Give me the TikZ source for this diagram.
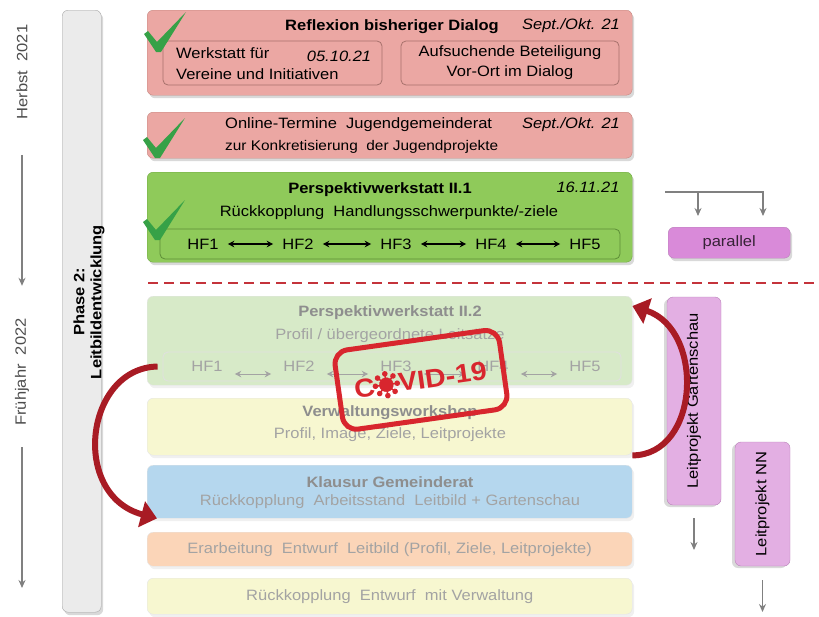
\documentclass[tikz,border=0pt]{standalone}
\usepackage{fontspec}
\setmainfont{Liberation Sans}[FakeStretch=1.1]
\usetikzlibrary{positioning,shadows,arrows.meta,calc}

\definecolor{reflpink}{HTML}{EBA7A3}
\definecolor{reflline}{HTML}{C4857F}
\definecolor{pwgreen}{HTML}{8FCA5A}
\definecolor{pwline}{HTML}{6EA741}
\definecolor{fadegreen}{HTML}{D7EAC8}
\definecolor{fadeyellow}{HTML}{F7F7D0}
\definecolor{fadeblue}{HTML}{B5D7EE}
\definecolor{fadeorange}{HTML}{FBD5B8}
\definecolor{lilac}{HTML}{E3AFE3}
\definecolor{lilacdark}{HTML}{D98AD9}
\definecolor{lilacline}{HTML}{B783B7}
\definecolor{arrowred}{HTML}{A81B24}
\definecolor{dashred}{HTML}{C4333B}
\definecolor{stampred}{HTML}{D8262E}
\definecolor{tickgreen}{HTML}{36A147}
\definecolor{timegray}{HTML}{808080}
\definecolor{fadetext}{HTML}{A3A3A3}
\definecolor{fadetitle}{HTML}{8E8E8E}

\def\fs{\fontsize{15}{20}\selectfont}

\tikzset{checkmark/.pic={
  \fill[tickgreen] (-14,-18) -- (-10,-21) -- (-1,-10) -- (28,-40) -- (3,0) -- (-2,0) -- cycle;}}

\begin{document}
\begin{tikzpicture}[x=1pt,y=-1pt,font=\fs]
\tikzstyle{stage}=[draw, rounded corners=6pt, anchor=north west, inner sep=0pt, minimum width=485pt]
\tikzstyle{shade}=[drop shadow={shadow xshift=2pt,shadow yshift=-3pt,opacity=0.3}]
\tikzstyle{light shade}=[drop shadow={shadow xshift=2pt,shadow yshift=-3pt,opacity=0.12}]
\tikzstyle{pink stage}=[stage, shade, fill=reflpink, draw=reflline]
\tikzstyle{green stage}=[stage, shade, fill=pwgreen, draw=pwline]
\tikzstyle{faded stage}=[stage, light shade, draw=black!10]
\tikzstyle{inner box}=[draw, rounded corners=5pt, inner sep=0pt, line width=0.8pt]
\tikzstyle{boxtitle}=[font=\fs\bfseries, inner sep=0pt]
\tikzstyle{boxdate}=[font=\fs\itshape, inner sep=0pt]
\tikzstyle{boxtext}=[inner sep=0pt]
\tikzstyle{faded title}=[boxtitle, text=fadetitle]
\tikzstyle{faded text}=[boxtext, text=fadetext]
\tikzstyle{hf}=[inner sep=1pt]
\tikzstyle{hf arrow}=[{Stealth[length=6.5pt,width=6.5pt]}-{Stealth[length=6.5pt,width=6.5pt]}, line width=1.2pt, shorten <=8pt, shorten >=8pt]
\tikzstyle{time arrow}=[-{Stealth[length=8pt,width=7pt]}, draw=timegray, line width=1.3pt]
\tikzstyle{red arrow}=[draw=arrowred, line width=6pt, -{Triangle[length=16pt,width=26pt]}]
\tikzstyle{lp box}=[draw=lilacline, fill=lilac, rounded corners=6pt, inner sep=0pt, rotate=90,
  drop shadow={shadow xshift=-3pt,shadow yshift=-2pt,opacity=0.3}]
\tikzstyle{stamp}=[text=stampred, font=\fontsize{26}{28}\selectfont\bfseries, inner sep=0pt]

\useasboundingbox (0,0) rectangle (819,616);

% Time line on the left
\node[rotate=90, text=black!70] (herbst) at (22,72) {Herbst\ \ 2021};
\node[rotate=90, text=black!70] (fruehjahr) at (22,372) {Frühjahr\ \ 2022};
\coordinate (timeend) at (22,588);
\draw[time arrow, shorten <=32pt, shorten >=29pt] (herbst) -- (fruehjahr);
\draw[time arrow, shorten <=18pt] (fruehjahr) -- (timeend);

% Phase column
\node[stage, shade, fill=black!8, draw=black!35, minimum width=39pt, minimum height=602pt] (phase) at (62,10) {};
\node[rotate=90, align=center, font=\fontsize{15}{17}\selectfont\bfseries] (phasetxt) at (89,302) {Phase 2:\\Leitbildentwicklung};

% Reflexion bisheriger Dialog
\node[pink stage, minimum height=85pt] (refl) at (147,10) {};
\node[boxtitle] (refl-t) at (392,27) {Reflexion bisheriger Dialog};
\node[boxdate] (refl-d) at (571,26) {Sept./Okt. 21};
\node[inner box, draw=reflline!85!black, minimum width=219pt, minimum height=44pt] (werk) at (272.5,63) {};
\node[boxtext, anchor=west] (werk-t1) at (176,53) {Werkstatt für};
\node[boxdate] (werk-d) at (339,56) {05.10.21};
\node[boxtext, anchor=west] (werk-t2) at (176,74) {Vereine und Initiativen};
\node[inner box, draw=reflline!85!black, minimum width=218pt, minimum height=44pt, align=center] (aufs) at (510,63) {Aufsuchende Beteiligung\\Vor-Ort im Dialog};
\pic at (158,52) {checkmark};

% Online-Termine
\node[pink stage, minimum height=46pt] (online) at (147,112) {};
\node[boxtext, anchor=west] (online-t1) at (225,125) {Online-Termine\ \ Jugendgemeinderat};
\node[boxdate] (online-d) at (571,125) {Sept./Okt. 21};
\node[boxtext, anchor=west, font=\fontsize{14}{18}\selectfont] (online-t2) at (225,147) {zur Konkretisierung\ \ der Jugendprojekte};
\pic at (157,158) {checkmark};

% Perspektivwerkstatt II.1
\node[green stage, minimum height=90pt] (pw1) at (147,172) {};
\node[boxtitle] (pw1-t) at (380,190) {Perspektivwerkstatt II.1};
\node[boxdate] (pw1-d) at (588,187) {16.11.21};
\node[boxtext] (pw1-s) at (389,213) {Rückkopplung\ \ Handlungsschwerpunkte/-ziele};
\node[inner box, draw=pwline!85!black, minimum width=460pt, minimum height=30pt] (HFa-box) at (390,244) {};
\foreach \name/\x in {1/203,2/298,3/396,4/491,5/585}
\node[hf] (HFa-\name) at (\x,244) {HF\name};
\foreach \s/\d in {1/2,2/3,3/4,4/5}
\draw[hf arrow] (HFa-\s) -- (HFa-\d);
\pic at (157,240) {checkmark};

% Legend: parallel
\node[stage, shade, fill=lilacdark, draw=lilacline, minimum width=122pt, minimum height=31pt] (parallel) at (668,227) {};
\node[text=black!75!lilacdark, inner sep=0pt] (parallel-t) at (parallel.center) {parallel};
\coordinate (par-start) at (665,192);
\coordinate (par-corner) at (763,192);
\coordinate (par-a) at (698,192);
\draw[time arrow, line width=1.1pt, shorten >=11pt] (par-start) -- (par-corner) -- (par-corner |- parallel.north);
\draw[time arrow, line width=1.1pt, shorten >=11pt] (par-a) -- (par-a |- parallel.north);

% Divider
\coordinate (div-l) at (148,283);
\coordinate (div-r) at (819,283);
\draw[dashred, line width=1.6pt, dash pattern=on 10pt off 6pt] (div-l) -- (div-r);

% Perspektivwerkstatt II.2
\node[faded stage, fill=fadegreen, minimum height=89pt] (pw2) at (147,296) {};
\node[faded title] (pw2-t) at (390,313) {Perspektivwerkstatt II.2};
\node[faded text] (pw2-s) at (390,336) {Profil / übergeordnete Leitsätze};
\node[inner box, draw=black!12, minimum width=458pt, minimum height=29pt] (HFb-box) at (392,366.5) {};
\foreach \name/\x in {1/207,2/299,3/396,4/493,5/585}
\node[hf, text=fadetext] (HFb-\name) at (\x,366) {HF\name};
\foreach \s/\d in {1/2,2/3,3/4,4/5}
\draw[hf arrow, draw=fadetext, line width=0.9pt, shorten <=11pt, shorten >=11pt] ([yshift=-8pt]HFb-\s.east) -- ([yshift=-8pt]HFb-\d.west);

% Verwaltungsworkshop
\node[faded stage, fill=fadeyellow, minimum height=57pt] (verw) at (147,398) {};
\node[faded title] (verw-t) at (390,413) {Verwaltungsworkshop};
\node[faded text] (verw-s) at (390,435) {Profil, Image, Ziele, Leitprojekte};

% Klausur Gemeinderat
\node[faded stage, fill=fadeblue, minimum height=53pt] (klausur) at (147,465) {};
\node[faded title] (klausur-t) at (390,482) {Klausur Gemeinderat};
\node[faded text] (klausur-s) at (390,502) {Rückkopplung\ \ Arbeitsstand\ \ Leitbild + Gartenschau};

% Entwurf
\node[faded stage, fill=fadeorange, minimum height=34pt, text=fadetext] (erarb) at (147,532) {Erarbeitung\ \ Entwurf\ \ Leitbild (Profil, Ziele, Leitprojekte)};
\node[faded stage, fill=fadeyellow, minimum height=36pt, text=fadetext] (rueck) at (147,578) {Rückkopplung\ \ Entwurf\ \ mit Verwaltung};

% Leitprojekte
\node[lp box, minimum width=208pt, minimum height=54pt] (lpG) at (694,401) {Leitprojekt Gartenschau};
\node[lp box, minimum width=124pt, minimum height=55pt] (lpN) at (762.5,504) {Leitprojekt NN};
\coordinate (lpG-end) at (694,550);
\coordinate (lpN-end) at (762.5,612);
\draw[time arrow, shorten <=13pt] (lpG) -- (lpG-end);
\draw[time arrow, shorten <=14pt] (lpN) -- (lpN-end);

% Shifted steps
\draw[red arrow] ([xshift=-5pt]HFb-box.west) .. controls (85,368) and (70,495) .. ([xshift=10pt]klausur.south west);
\draw[red arrow] (verw.south east) .. controls (700,455) and (705,330) .. ([yshift=-10pt]pw2.north east);

% COVID-19 stamp
\begin{scope}[shift={(420,380)}, rotate=8, transform shape]
\draw[stampred, line width=5pt, rounded corners=14pt] (-82,-40) rectangle (84,40);
\node[stamp] (covC) at (-56,0) {C};
\filldraw[stampred] (-34,0) circle (7);
\foreach \a in {0,45,...,315}
\filldraw[stampred, line width=1.5pt] (-34,0) -- ++(\a:11) circle (2);
\node[stamp, anchor=west] (covV) at (-22,0) {VID-19};
\end{scope}

\end{tikzpicture}
\end{document}
